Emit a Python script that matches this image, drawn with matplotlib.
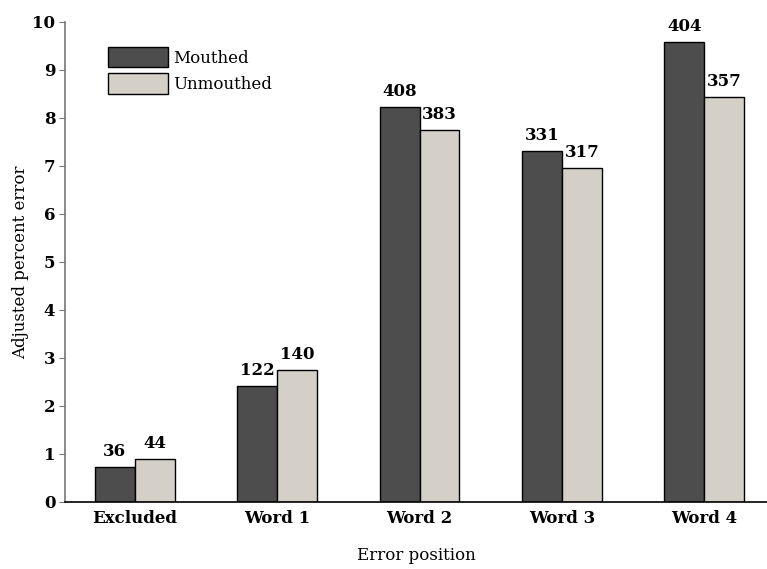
import matplotlib
matplotlib.use('Agg')
import matplotlib.pyplot as plt
import numpy as np

# Datos
categorias = ['Excluded', 'Word 1', 'Word 2', 'Word 3', 'Word 4']
mouthed = [0.72, 2.42, 8.22, 7.31, 9.58]
unmouthed = [0.89, 2.76, 7.76, 6.96, 8.43]
n_mouthed = [36, 122, 408, 331, 404]
n_unmouthed = [44, 140, 383, 317, 357]

plt.rcParams['font.family'] = ['DejaVu Serif']

fig = plt.figure(figsize=(7.67, 5.69), dpi=100)
ax = fig.add_axes([65 / 767, 1 - 502 / 569, 702 / 767, 480 / 569])

x = np.arange(len(categorias))
width = 0.28

b1 = ax.bar(x - width / 2, mouthed, width, color='#4d4d4d', edgecolor='black', linewidth=1, label='Mouthed')
b2 = ax.bar(x + width / 2, unmouthed, width, color='#d4d0c8', edgecolor='black', linewidth=1, label='Unmouthed')

ax.bar_label(b1, labels=[str(v) for v in n_mouthed], padding=5, fontsize=12, fontweight='bold')
ax.bar_label(b2, labels=[str(v) for v in n_unmouthed], padding=5, fontsize=12, fontweight='bold')

ax.set_xlim(-0.49, 4.44)
ax.set_ylim(0, 10)
ax.set_yticks(range(0, 11))
ax.set_xticks(x)
ax.set_xticklabels(categorias, fontsize=12, fontweight='bold')
for lbl in ax.get_yticklabels():
    lbl.set_fontsize(12)
    lbl.set_fontweight('bold')

ax.tick_params(axis='x', length=0, pad=6)
ax.tick_params(axis='y', length=4, color='#777777', pad=3)

ax.spines['top'].set_visible(False)
ax.spines['right'].set_visible(False)
ax.spines['left'].set_color('#777777')
ax.spines['left'].set_linewidth(1.2)
ax.spines['bottom'].set_color('black')
ax.spines['bottom'].set_linewidth(1.2)

ax.set_ylabel('Adjusted percent error', fontsize=12, labelpad=2)
ax.set_xlabel('Error position', fontsize=12, labelpad=14)

ax.legend(loc='upper left', bbox_to_anchor=(0.05, 0.965), frameon=False,
          fontsize=12, handlelength=3.6, handleheight=1.5, labelspacing=0.35,
          handletextpad=0.3, borderpad=0)

fig.savefig('out.png', dpi=100)
